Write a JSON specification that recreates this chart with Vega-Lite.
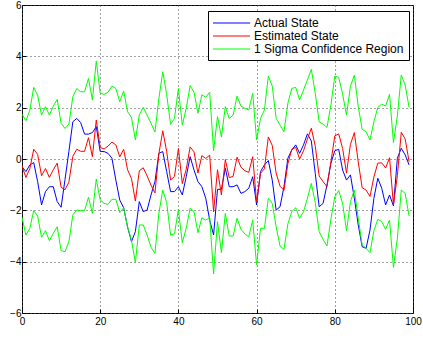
{
  "$schema": "https://vega.github.io/schema/vega-lite/v6.json",
  "width": 391,
  "height": 308,
  "autosize": {"type": "none"},
  "padding": {"left": 22, "top": 5, "right": 10, "bottom": 25},
  "background": "white",
  "config": {
    "font": "Liberation Sans",
    "view": {"stroke": "#000", "strokeWidth": 1},
    "axis": {
      "domain": false,
      "grid": true,
      "gridColor": "#444",
      "gridDash": [1, 3],
      "gridWidth": 1,
      "tickColor": "#000",
      "tickSize": -4,
      "labelFontSize": 10,
      "labelColor": "#000",
      "labelFont": "Liberation Sans",
      "title": null
    }
  },
  "data": {
    "values": [
      {"x": 0, "actual": -0.3, "estimated": -0.27, "upper": 1.74, "lower": -2.27},
      {"x": 1, "actual": -0.49, "estimated": -0.72, "upper": 1.49, "lower": -2.96},
      {"x": 2, "actual": -0.23, "estimated": -0.38, "upper": 1.9, "lower": -2.7},
      {"x": 3, "actual": -0.14, "estimated": 0.38, "upper": 2.79, "lower": -2.01},
      {"x": 4, "actual": -0.88, "estimated": 0.18, "upper": 2.49, "lower": -2.22},
      {"x": 5, "actual": -1.79, "estimated": -0.65, "upper": 1.71, "lower": -3.05},
      {"x": 6, "actual": -1.27, "estimated": -0.37, "upper": 2.04, "lower": -2.79},
      {"x": 7, "actual": -1.08, "estimated": -0.72, "upper": 1.71, "lower": -3.18},
      {"x": 8, "actual": -1.08, "estimated": -0.42, "upper": 2.06, "lower": -2.9},
      {"x": 9, "actual": -1.66, "estimated": -0.16, "upper": 2.32, "lower": -2.64},
      {"x": 10, "actual": -1.88, "estimated": -1.1, "upper": 1.39, "lower": -3.57},
      {"x": 11, "actual": -0.8, "estimated": -1.2, "upper": 1.19, "lower": -3.61},
      {"x": 12, "actual": 0.3, "estimated": -0.9, "upper": 1.36, "lower": -3.22},
      {"x": 13, "actual": 1.45, "estimated": 0.1, "upper": 2.43, "lower": -2.18},
      {"x": 14, "actual": 1.58, "estimated": 0.38, "upper": 2.75, "lower": -1.99},
      {"x": 15, "actual": 1.42, "estimated": 0.3, "upper": 2.62, "lower": -2.01},
      {"x": 16, "actual": 0.97, "estimated": 0.3, "upper": 2.62, "lower": -2.01},
      {"x": 17, "actual": 0.97, "estimated": 0.83, "upper": 3.14, "lower": -1.49},
      {"x": 18, "actual": 1.03, "estimated": 0.09, "upper": 2.3, "lower": -2.12},
      {"x": 19, "actual": 1.26, "estimated": 1.52, "upper": 3.82, "lower": -0.78},
      {"x": 20, "actual": 0.29, "estimated": 0.45, "upper": 2.56, "lower": -1.6},
      {"x": 21, "actual": 0.29, "estimated": 0.39, "upper": 2.52, "lower": -1.73},
      {"x": 22, "actual": 0.22, "estimated": 0.5, "upper": 2.6, "lower": -1.77},
      {"x": 23, "actual": 0.03, "estimated": 0.66, "upper": 2.84, "lower": -1.57},
      {"x": 24, "actual": -0.82, "estimated": 0.55, "upper": 2.75, "lower": -1.57},
      {"x": 25, "actual": -1.6, "estimated": 0.08, "upper": 2.23, "lower": -2.09},
      {"x": 26, "actual": -1.9, "estimated": 0.38, "upper": 2.65, "lower": -1.9},
      {"x": 27, "actual": -2.65, "estimated": -0.42, "upper": 1.84, "lower": -2.64},
      {"x": 28, "actual": -3.22, "estimated": -0.76, "upper": 1.62, "lower": -3.16},
      {"x": 29, "actual": -2.83, "estimated": -1.64, "upper": 0.74, "lower": -4.04},
      {"x": 30, "actual": -1.66, "estimated": -0.46, "upper": 1.71, "lower": -2.57},
      {"x": 31, "actual": -2.05, "estimated": -0.34, "upper": 2.01, "lower": -2.57},
      {"x": 32, "actual": -1.99, "estimated": -0.66, "upper": 1.71, "lower": -2.96},
      {"x": 33, "actual": -1.4, "estimated": -1.02, "upper": 1.39, "lower": -3.44},
      {"x": 34, "actual": -0.88, "estimated": -1.32, "upper": 1.05, "lower": -3.68},
      {"x": 35, "actual": 0.22, "estimated": 0.2, "upper": 2.35, "lower": -2.12},
      {"x": 36, "actual": 0.29, "estimated": 1.1, "upper": 3.4, "lower": -1.21},
      {"x": 37, "actual": -0.49, "estimated": 0.3, "upper": 2.52, "lower": -1.7},
      {"x": 38, "actual": -1.27, "estimated": -0.82, "upper": 1.35, "lower": -2.96},
      {"x": 39, "actual": -1.27, "estimated": -0.68, "upper": 1.58, "lower": -2.92},
      {"x": 40, "actual": -1.08, "estimated": 0.41, "upper": 2.75, "lower": -1.96},
      {"x": 41, "actual": -1.4, "estimated": -0.96, "upper": 1.32, "lower": -3.26},
      {"x": 42, "actual": -0.69, "estimated": -0.4, "upper": 1.97, "lower": -2.7},
      {"x": 43, "actual": 0.09, "estimated": 0.47, "upper": 2.86, "lower": -1.92},
      {"x": 44, "actual": -0.43, "estimated": 0.28, "upper": 2.6, "lower": -2.05},
      {"x": 45, "actual": -0.88, "estimated": -0.55, "upper": 1.78, "lower": -2.87},
      {"x": 46, "actual": -1.08, "estimated": 0.13, "upper": 2.5, "lower": -2.29},
      {"x": 47, "actual": -1.53, "estimated": 0.02, "upper": 2.41, "lower": -2.38},
      {"x": 48, "actual": -2.38, "estimated": 0.15, "upper": 2.6, "lower": -2.29},
      {"x": 49, "actual": -2.96, "estimated": -2.06, "upper": 0.32, "lower": -4.48},
      {"x": 50, "actual": -1.18, "estimated": -0.42, "upper": 1.65, "lower": -2.44},
      {"x": 51, "actual": -1.18, "estimated": -1.4, "upper": 0.86, "lower": -3.65},
      {"x": 52, "actual": -0.36, "estimated": -0.02, "upper": 2.04, "lower": -2.12},
      {"x": 53, "actual": -1.08, "estimated": -0.73, "upper": 1.58, "lower": -3.0},
      {"x": 54, "actual": -1.08, "estimated": -0.67, "upper": 1.71, "lower": -3.0},
      {"x": 55, "actual": -1.01, "estimated": 0.07, "upper": 2.45, "lower": -2.31},
      {"x": 56, "actual": -1.34, "estimated": -0.32, "upper": 2.06, "lower": -2.74},
      {"x": 57, "actual": -1.27, "estimated": -0.46, "upper": 1.97, "lower": -2.92},
      {"x": 58, "actual": -1.14, "estimated": -0.52, "upper": 1.91, "lower": -3.03},
      {"x": 59, "actual": -0.69, "estimated": 0.09, "upper": 2.56, "lower": -2.38},
      {"x": 60, "actual": -1.79, "estimated": -1.68, "upper": 0.74, "lower": -4.13},
      {"x": 61, "actual": -0.49, "estimated": -0.56, "upper": 1.58, "lower": -2.7},
      {"x": 62, "actual": -0.23, "estimated": -0.38, "upper": 1.91, "lower": -2.7},
      {"x": 63, "actual": -0.06, "estimated": 0.86, "upper": 3.23, "lower": -1.53},
      {"x": 64, "actual": -0.82, "estimated": 0.53, "upper": 2.84, "lower": -1.73},
      {"x": 65, "actual": -1.99, "estimated": -0.55, "upper": 1.58, "lower": -2.64},
      {"x": 66, "actual": -1.86, "estimated": -1.06, "upper": 1.32, "lower": -3.39},
      {"x": 67, "actual": -1.08, "estimated": -1.22, "upper": 1.06, "lower": -3.52},
      {"x": 68, "actual": 0.03, "estimated": -0.18, "upper": 2.17, "lower": -2.53},
      {"x": 69, "actual": 0.35, "estimated": 0.38, "upper": 2.75, "lower": -2.05},
      {"x": 70, "actual": 0.55, "estimated": 0.45, "upper": 2.79, "lower": -1.9},
      {"x": 71, "actual": 0.22, "estimated": 0.0, "upper": 2.3, "lower": -2.31},
      {"x": 72, "actual": 0.55, "estimated": 0.32, "upper": 2.69, "lower": -2.05},
      {"x": 73, "actual": 0.98, "estimated": 0.78, "upper": 3.08, "lower": -1.53},
      {"x": 74, "actual": 0.7, "estimated": 1.2, "upper": 3.49, "lower": -0.95},
      {"x": 75, "actual": -0.56, "estimated": 0.5, "upper": 2.56, "lower": -1.7},
      {"x": 76, "actual": -1.86, "estimated": -0.66, "upper": 1.45, "lower": -2.83},
      {"x": 77, "actual": -1.73, "estimated": -0.88, "upper": 1.36, "lower": -3.13},
      {"x": 78, "actual": -1.01, "estimated": -1.08, "upper": 1.23, "lower": -3.39},
      {"x": 79, "actual": -0.17, "estimated": -0.12, "upper": 2.1, "lower": -2.35},
      {"x": 80, "actual": 0.32, "estimated": 0.9, "upper": 3.23, "lower": -1.47},
      {"x": 81, "actual": 0.38, "estimated": 0.98, "upper": 3.18, "lower": -1.23},
      {"x": 82, "actual": -0.43, "estimated": 0.41, "upper": 2.53, "lower": -1.73},
      {"x": 83, "actual": -0.82, "estimated": -0.55, "upper": 1.71, "lower": -2.8},
      {"x": 84, "actual": -0.62, "estimated": 0.57, "upper": 2.84, "lower": -1.66},
      {"x": 85, "actual": -1.53, "estimated": 1.03, "upper": 3.27, "lower": -1.21},
      {"x": 86, "actual": -2.57, "estimated": -0.12, "upper": 2.04, "lower": -2.31},
      {"x": 87, "actual": -3.42, "estimated": -1.12, "upper": 1.16, "lower": -3.35},
      {"x": 88, "actual": -3.48, "estimated": -1.21, "upper": 1.06, "lower": -3.48},
      {"x": 89, "actual": -2.77, "estimated": -1.46, "upper": 0.74, "lower": -3.65},
      {"x": 90, "actual": -1.53, "estimated": -0.7, "upper": 1.45, "lower": -2.79},
      {"x": 91, "actual": -0.75, "estimated": -0.16, "upper": 2.01, "lower": -2.35},
      {"x": 92, "actual": -1.14, "estimated": -0.15, "upper": 2.14, "lower": -2.44},
      {"x": 93, "actual": -1.79, "estimated": -0.35, "upper": 2.06, "lower": -2.74},
      {"x": 94, "actual": -1.4, "estimated": 0.05, "upper": 2.52, "lower": -2.38},
      {"x": 95, "actual": -1.83, "estimated": -1.79, "upper": 0.64, "lower": -4.22},
      {"x": 96, "actual": 0.03, "estimated": -0.65, "upper": 1.68, "lower": -3.09},
      {"x": 97, "actual": 0.42, "estimated": 1.04, "upper": 3.27, "lower": -1.21},
      {"x": 98, "actual": 0.16, "estimated": 0.78, "upper": 2.88, "lower": -1.34},
      {"x": 99, "actual": -0.23, "estimated": -0.1, "upper": 2.01, "lower": -2.22}
    ]
  },
  "encoding": {
    "x": {
      "field": "x",
      "type": "quantitative",
      "scale": {"domain": [0, 100], "nice": false, "zero": false},
      "axis": {"values": [0, 20, 40, 60, 80, 100], "labelPadding": 7, "labelFlush": false}
    }
  },
  "layer": [
    {
      "mark": {"type": "line", "strokeWidth": 1, "clip": true},
      "encoding": {
        "y": {
          "field": "actual",
          "type": "quantitative",
          "scale": {"domain": [-6, 6], "nice": false, "zero": false},
          "axis": {"values": [-6, -4, -2, 0, 2, 4, 6], "labelPadding": 5, "labelFlush": false}
        },
        "color": {
          "datum": "Actual State",
          "type": "nominal",
          "scale": {
            "domain": ["Actual State", "Estimated State", "1 Sigma Confidence Region"],
            "range": ["#0000ff", "#ff0000", "#00ff00"]
          },
          "legend": {
            "title": null,
            "orient": "none",
            "legendX": 186,
            "legendY": 6,
            "symbolType": "M-1,-0.075H4.3V0.075H-1Z",
            "symbolSize": 196,
            "symbolStrokeWidth": 0,
            "symbolStrokeColor": "transparent",
            "labelFontSize": 12,
            "labelFont": "Liberation Sans",
            "labelColor": "#000",
            "labelOffset": 27,
            "rowPadding": 0,
            "padding": 5,
            "fillColor": "white",
            "strokeColor": "#000",
            "labelLimit": 300,
            "encode": {
              "symbols": {
                "update": {
                  "fill": {"field": "value", "scale": "color"},
                  "fillOpacity": {"value": 1}
                }
              }
            }
          }
        }
      }
    },
    {
      "mark": {"type": "line", "strokeWidth": 1, "clip": true},
      "encoding": {
        "y": {"field": "estimated", "type": "quantitative"},
        "color": {"datum": "Estimated State", "type": "nominal"}
      }
    },
    {
      "mark": {"type": "line", "strokeWidth": 1, "clip": true},
      "encoding": {
        "y": {"field": "upper", "type": "quantitative"},
        "color": {"datum": "1 Sigma Confidence Region", "type": "nominal"}
      }
    },
    {
      "mark": {"type": "line", "strokeWidth": 1, "clip": true},
      "encoding": {
        "y": {"field": "lower", "type": "quantitative"},
        "color": {"datum": "1 Sigma Confidence Region", "type": "nominal"}
      }
    }
  ]
}
